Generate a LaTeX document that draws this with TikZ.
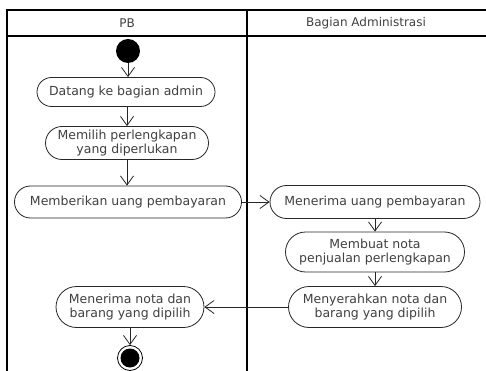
\documentclass[tikz,border=0pt]{standalone}
\usepackage{fontspec}
\setmainfont{DejaVu Sans}
\usetikzlibrary{arrows.meta}
\begin{document}
\begin{tikzpicture}[x=1pt,y=-1pt,
  lane/.style={line width=1.3pt, draw=black},
  act/.style={draw=black!85, line width=0.8pt, fill=white, text=black!75, align=center,
    inner sep=0pt, font=\fontsize{12.5}{14.5}\selectfont},
  flow/.style={draw=black!85, line width=0.8pt, -{Straight Barb[length=9pt,width=13pt]}},
  hdr/.style={text=black!75, font=\fontsize{12}{14}\selectfont}
]
\useasboundingbox (0,0) rectangle (486,371);
% swimlane frame
\begin{scope}
  \clip (0,0) rectangle (486,371);
  \draw[lane] (7,380) -- (7,10) -- (495,10);
  \draw[lane] (7,36) -- (495,36);
  \draw[lane] (247,10) -- (247,380);
\end{scope}
\node[hdr] (hPB) at (127,23) {PB};
\node[hdr] (hBA) at (366,23) {Bagian Administrasi};

% initial node
\node[circle, fill=black, minimum size=24, inner sep=0pt] (start) at (128,51) {};

% activities
\node[act, minimum width=178, minimum height=29, rounded corners=14.5] (n1) at (126,92) {Datang ke bagian admin};
\node[act, minimum width=163, minimum height=33, rounded corners=16.5] (n2) at (127,143) {Memilih perlengkapan\\yang diperlukan};
\node[act, minimum width=227, minimum height=32, rounded corners=16] (n3) at (128,202) {Memberikan uang pembayaran};
\node[act, minimum width=210, minimum height=33, rounded corners=16.5] (n4) at (375,202) {Menerima uang pembayaran};
\node[act, minimum width=179, minimum height=40, rounded corners=20] (n5) at (375,252) {Membuat nota\\penjualan perlengkapan};
\node[act, minimum width=173, minimum height=41, rounded corners=20.5] (n6) at (375,307) {Menyerahkan nota dan\\barang yang dipilih};
\node[act, minimum width=148, minimum height=41, rounded corners=20.5] (n7) at (130,307) {Menerima nota dan\\barang yang dipilih};

% final node
\node[circle, draw=black, line width=0.8pt, fill=white, minimum size=25, inner sep=0pt] (fin) at (130,358) {};
\node[circle, fill=black, minimum size=19, inner sep=0pt] (finc) at (fin) {};

% control flows
\draw[flow] (start.south) -- (start.south |- n1.north);
\draw[flow] (n2.north |- n1.south) -- (n2.north);
\draw[flow] (n2.south) -- (n2.south |- n3.north);
\draw[flow] (n3.east) -- (n4.west);
\draw[flow] (n4.south) -- (n5.north);
\draw[flow] (n5.south) -- (n6.north);
\draw[flow] (n6.west) -- (n7.east);
\draw[flow] (n7.south) -- (fin.north);
\end{tikzpicture}
\end{document}
